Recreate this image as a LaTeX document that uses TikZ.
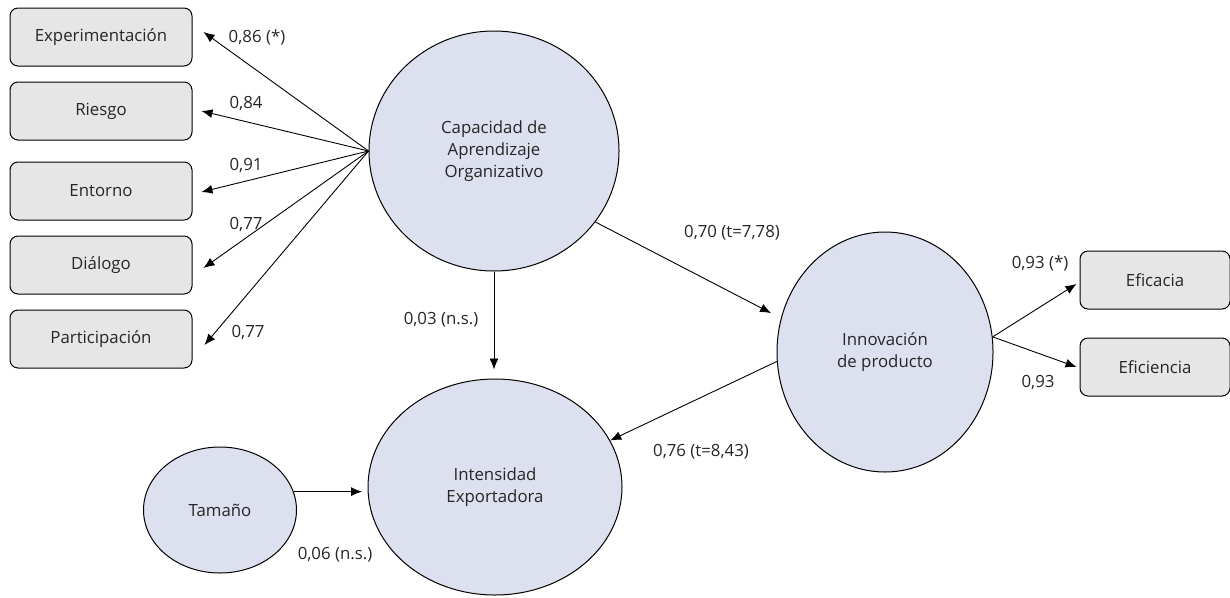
\documentclass[tikz,border=0pt]{standalone}
\usepackage{fontspec}
\setmainfont{Open Sans}
\usetikzlibrary{shapes.geometric,arrows.meta}
\definecolor{latfill}{RGB}{221,224,238}
\definecolor{boxfill}{RGB}{230,230,230}
\begin{document}
\begin{tikzpicture}[x=1pt,y=-1pt,
    latent/.style={ellipse,draw,line width=1pt,fill=latfill,inner sep=0pt,align=center},
    indicator/.style={draw,line width=1pt,fill=boxfill,rounded corners=8pt,minimum width=182pt,minimum height=58pt},
    link/.style={draw,line width=0.9pt,-{Latex[length=11pt,width=9pt]}}]
\tikzset{every node/.style={font=\fontsize{16.8}{22}\selectfont,text=black!85}}
\useasboundingbox (0,0) rectangle (1230,597);
% latent variables
\node[latent,minimum width=250pt,minimum height=240pt] (cap) at (494,151) {Capacidad de\\Aprendizaje\\Organizativo};
\node[latent,minimum width=216pt,minimum height=240pt] (inno) at (885,352) {Innovación\\de producto};
\node[latent,minimum width=254pt,minimum height=216pt] (inte) at (495,487) {Intensidad\\Exportadora};
\node[latent,minimum width=153pt,minimum height=126pt] (tam) at (220,510) {Tamaño};
% indicators
\node[indicator] (exp) at (101,37) {Experimentación};
\node[indicator] (rie) at (101,111) {Riesgo};
\node[indicator] (ent) at (101,191) {Entorno};
\node[indicator] (dia) at (101,265) {Diálogo};
\node[indicator] (par) at (101,339) {Participación};
\node[indicator,minimum width=150pt] (efa) at (1155,280) {Eficacia};
\node[indicator,minimum width=150pt] (efi) at (1155,367) {Eficiencia};
% loadings
\draw[link] (cap.west) -- ([xshift=11pt,yshift=5pt]exp.east);
\draw[link] (cap.west) -- ([xshift=9pt]rie.east);
\draw[link] (cap.west) -- ([xshift=9pt,yshift=-1pt]ent.east);
\draw[link] (cap.west) -- ([xshift=11pt,yshift=-3pt]dia.east);
\draw[link] (cap.west) -- ([xshift=12pt,yshift=-6pt]par.east);
\draw[link] (inno.8) -- ([xshift=-3pt,yshift=-4pt]efa.west);
\draw[link] (inno.8) -- ([xshift=-3pt]efi.west);
% structural paths
\draw[link,shorten >=11pt] (cap.-35) -- (inno.162);
\draw[link,shorten >=9pt] (cap.south) -- (cap.south |- inte.north);
\draw[link] (inno.185) -- (inte.22);
\coordinate (tamtip) at (362,491);
\draw[link] (tam.14) -- (tam.14 -| tamtip);
% coefficients
\node (cexp) at (257,37) {0,86 (*)};
\node (crie) at (246,103) {0,84};
\node (cent) at (246,165) {0,91};
\node (cdia) at (246,224) {0,77};
\node (cpar) at (248,332) {0,77};
\node (cinno) at (732,233) {0,70 (t=7,78)};
\node (cinte) at (441,320) {0,03 (n.s.)};
\node (cexpo) at (701,452) {0,76 (t=8,43)};
\node (cefa) at (1040,263) {0,93 (*)};
\node (cefi) at (1038,382) {0,93};
\node (ctam) at (335,555) {0,06 (n.s.)};
\end{tikzpicture}
\end{document}
